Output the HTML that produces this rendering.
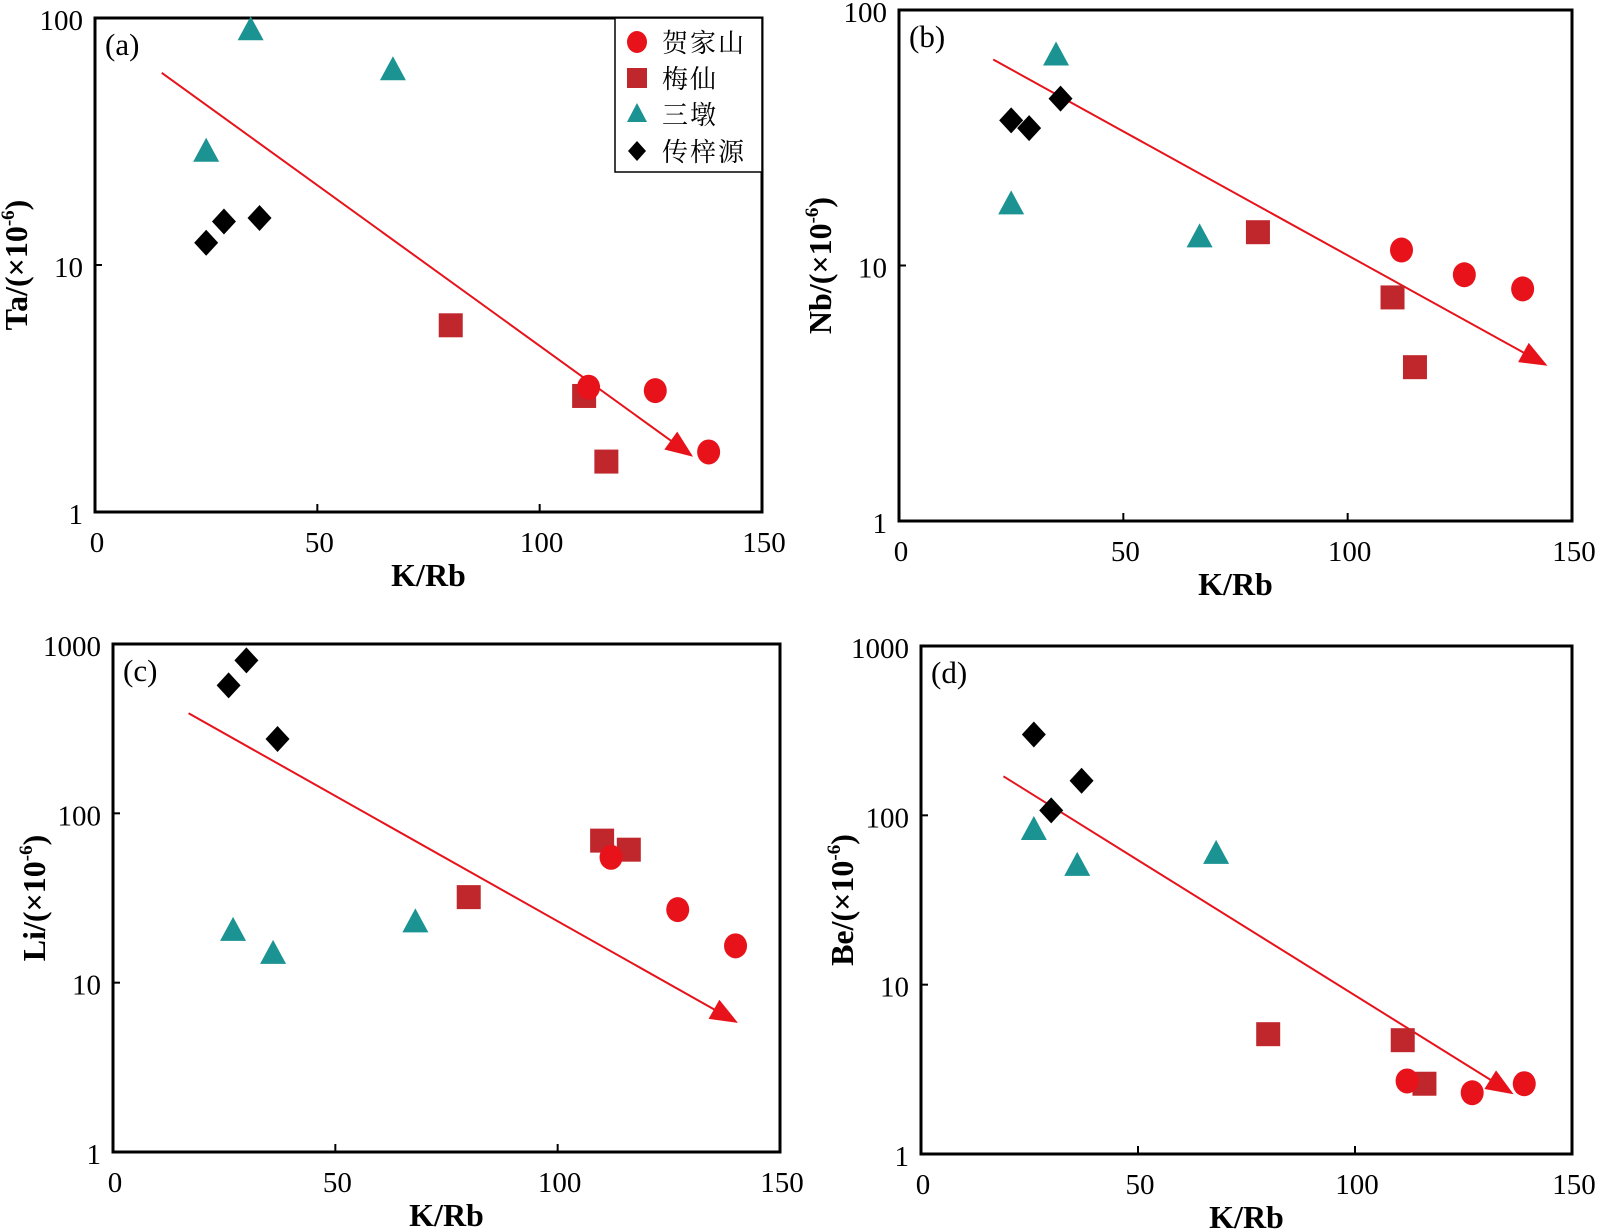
<!DOCTYPE html>
<html><head><meta charset="utf-8">
<style>
body{margin:0;background:#fff;}
svg{display:block;font-family:"Liberation Serif","Noto Serif CJK SC",serif;}
</style></head>
<body>
<svg id="chart" width="1598" height="1231" viewBox="0 0 1598 1231" xmlns="http://www.w3.org/2000/svg">
<defs>
<marker id="arrowhead" markerWidth="30" markerHeight="22" refX="9" refY="4" orient="auto" markerUnits="userSpaceOnUse" viewBox="0 0 10 8">
<path d="M0,0 L10,4 L0,8 Z" fill="#e8121b"/>
</marker>
</defs>
</svg>
<script>
const xTicks=[0,50,100,150];
const seriesNames=["贺家山","梅仙","三墩","传梓源"];
// panel a: Ta
const aCircle=[[111,3.2],[126,3.1],[138,1.75]];
const aSquare=[[80,5.7],[110,2.95],[115,1.6]];
const aTri=[[35,90],[67,62],[25,29]];
const aDia=[[25,12.3],[29,15],[37,15.5]];
const aArrow=[[15,60],[134,1.7]];
// panel b: Nb
const bCircle=[[112,11.5],[126,9.2],[139,8.1]];
const bSquare=[[80,13.5],[110,7.5],[115,4.0]];
const bTri=[[35,67],[25,17.5],[67,13]];
const bDia=[[25,37],[29,34.5],[36,45]];
const bArrow=[[21,64],[144,4.1]];
// panel c: Li
const cCircle=[[112,55],[127,27],[140,16.5]];
const cSquare=[[80,32],[110,69],[116,61]];
const cTri=[[27,20.5],[36,15],[68,23]];
const cDia=[[26,570],[30,800],[37,275]];
const cArrow=[[17,390],[140,5.9]];
// panel d: Be
const dCircle=[[112,2.7],[127,2.3],[139,2.6]];
const dSquare=[[80,5.1],[111,4.7],[116,2.6]];
const dTri=[[26,83],[36,51],[68,60]];
const dDia=[[26,300],[30,107],[37,160]];
const dArrow=[[19,170],[136,2.3]];

const NS="http://www.w3.org/2000/svg";
const svg=document.getElementById('chart');
function mk(tag,attrs,parent,text){
  const e=document.createElementNS(NS,tag);
  for(const k in attrs)e.setAttribute(k,attrs[k]);
  if(text!==undefined)e.textContent=text;
  (parent||svg).appendChild(e);return e;
}
const RED="#e8121b",DRED="#c0272d",TEAL="#1a9392";

function panel(id,box,yMax,label,ytitle,circ,sq,tri,dia,arr){
  const g=mk('g',{});
  
  
  const [L,T,R,B]=box;
  const sx=v=>L+(v/150)*(R-L);
  const ly=Math.log10(yMax);
  const sy=v=>B-(Math.log10(v)/ly)*(B-T);
  const frame=mk('rect',{x:L,y:T,width:R-L,height:B-T,fill:'none',stroke:'#000','stroke-width':3},g);
  
  
  xTicks.forEach(t=>{
    const x=sx(t);
    if(t>0&&t<150)mk('line',{x1:x,y1:B,x2:x,y2:B-8,stroke:'#000','stroke-width':2},g);
    const tx=mk('text',{x:x+2,y:B+40,'text-anchor':'middle','font-size':29},g,String(t));
    
    
  });
  for(let p=0;p<=ly;p++){
    const v=Math.pow(10,p),y=sy(v);
    mk('line',{x1:L,y1:y,x2:L+7,y2:y,stroke:'#000','stroke-width':2},g);
    const tx=mk('text',{x:L-12,y:y+12,'text-anchor':'end','font-size':29},g,String(v));
    
    
  }
  const xt=mk('text',{x:(L+R)/2,y:B+74,'text-anchor':'middle','font-size':32,'font-weight':'bold'},g,'K/Rb');
  
  
  const yt=mk('text',{transform:`translate(${L-68},${(T+B)/2}) rotate(-90)`,'text-anchor':'middle','font-size':32,'font-weight':'bold'},g);
  
  
  mk('tspan',{},yt,ytitle+'/(×10');
  mk('tspan',{dy:-13,'font-size':19},yt,'-6');
  mk('tspan',{dy:13},yt,')');
  const pl=mk('text',{x:L+10,y:T+37,'font-size':31},g,label);
  
  
  const ar=mk('line',{x1:sx(arr[0][0]),y1:sy(arr[0][1]),x2:sx(arr[1][0]),y2:sy(arr[1][1]),stroke:RED,'stroke-width':2,'marker-end':'url(#arrowhead)'},g);
  
  
  dia.forEach(d=>{const x=sx(d[0]),y=sy(d[1]);
    const m=mk('polygon',{points:`${x},${y-13} ${x+12},${y} ${x},${y+13} ${x-12},${y}`,fill:'#000'},g);
    
    });
  tri.forEach(d=>{const x=sx(d[0]),y=sy(d[1]);
    const m=mk('polygon',{points:`${x},${y-13} ${x+13},${y+11} ${x-13},${y+11}`,fill:TEAL},g);
    
    });
  sq.forEach(d=>{const x=sx(d[0]),y=sy(d[1]);
    const m=mk('rect',{x:x-12,y:y-12,width:24,height:24,fill:DRED},g);
    
    });
  circ.forEach(d=>{const x=sx(d[0]),y=sy(d[1]);
    const m=mk('ellipse',{cx:x,cy:y,rx:11.5,ry:12.5,fill:RED},g);
    
    });
}

panel('a',[95,18,762,512],100,'(a)','Ta',aCircle,aSquare,aTri,aDia,aArrow);
panel('b',[899,10,1572,521],100,'(b)','Nb',bCircle,bSquare,bTri,bDia,bArrow);
panel('c',[113,644,780,1152],1000,'(c)','Li',cCircle,cSquare,cTri,cDia,cArrow);
panel('d',[921,646,1572,1154],1000,'(d)','Be',dCircle,dSquare,dTri,dDia,dArrow);

// legend in panel a
const lg=mk('g',{});


mk('rect',{x:615,y:18,width:147,height:154,fill:'#fff',stroke:'#000','stroke-width':1.5},lg);
const ys=[42,78,114,151];
seriesNames.forEach((n,i)=>{
  const x=637,y=ys[i];
  let m;
  if(i===0)m=mk('ellipse',{cx:x,cy:y,rx:10,ry:11,fill:RED},lg);
  if(i===1)m=mk('rect',{x:x-10,y:y-10,width:20,height:20,fill:DRED},lg);
  if(i===2)m=mk('polygon',{points:`${x},${y-11} ${x+10},${y+8} ${x-10},${y+8}`,fill:TEAL},lg);
  if(i===3)m=mk('polygon',{points:`${x},${y-10} ${x+9},${y} ${x},${y+10} ${x-9},${y}`,fill:'#000'},lg);
  
  
  const t=mk('text',{x:662,y:y+10,'font-size':26,'letter-spacing':2},lg,n);
  
  
});
</script>
</body></html>
